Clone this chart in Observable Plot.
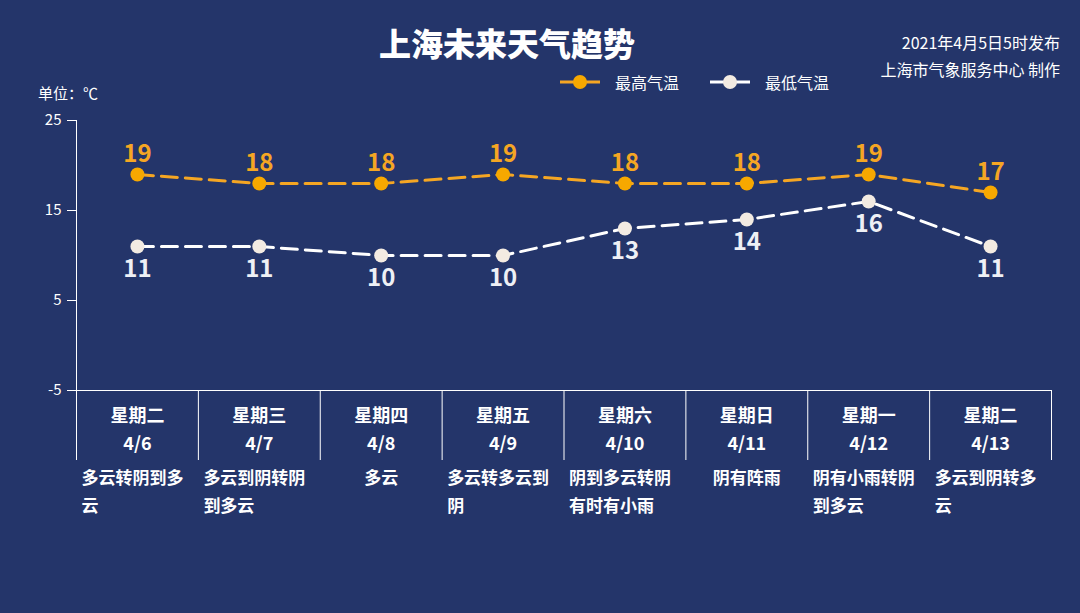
<!DOCTYPE html>
<html>
<head>
<meta charset="utf-8">
<script src="https://cdn.jsdelivr.net/npm/d3@7"></script>
<script src="https://cdn.jsdelivr.net/npm/@observablehq/plot@0.6"></script>
<style>
  html, body { margin: 0; padding: 0; }
  body { width: 1080px; height: 613px; background: #24356a; overflow: hidden;
         font-family: "Noto Sans CJK SC", "Noto Sans", sans-serif; color: #fff; }
  #header { position: relative; height: 110px; }
  #title { position: absolute; left: 0; width: 1014px; top: 20px; line-height: 44px;
           text-align: center; font-size: 32px; font-weight: 900; }
  #source { position: absolute; right: 20px; top: 29px; text-align: right;
            font-size: 16px; line-height: 27px; }
  #legend { position: absolute; left: 560px; top: 70px; height: 24px; display: flex; align-items: center;
            font-size: 16px; }
  #legend .item { display: flex; align-items: center; margin-right: 31px; }
  #legend svg { margin-right: 15px; }
  #unit { position: absolute; left: 38px; top: 82px; font-size: 15px; line-height: 22px; }
</style>
</head>
<body>
<div id="header">
  <div id="title">上海未来天气趋势</div>
  <div id="source">2021年4月5日5时发布<br>上海市气象服务中心 制作</div>
  <div id="legend"></div>
  <div id="unit">单位：℃</div>
</div>
<div id="chart"></div>
<script>
// ---- data ----
const days = ["星期二", "星期三", "星期四", "星期五", "星期六", "星期日", "星期一", "星期二"];
const dates = ["4/6", "4/7", "4/8", "4/9", "4/10", "4/11", "4/12", "4/13"];
const weather = ["多云转阴到多云", "多云到阴转阴到多云", "多云", "多云转多云到阴",
                 "阴到多云转阴有时有小雨", "阴有阵雨", "阴有小雨转阴到多云", "多云到阴转多云"];
const highs = [19, 18, 18, 19, 18, 18, 19, 17];
const lows = [11, 11, 10, 10, 13, 14, 16, 11];
const yTicks = [-5, 5, 15, 25];
const seriesNames = ["最高气温", "最低气温"];

// ---- styles ----
const orange = "#f5a623";
const orangeFill = "#f7a800";
const whiteLine = "#ffffff";
const creamFill = "#f3ebe2";
const lowText = "#eef0f5";

const rows = days.map((d, i) => ({i, day: d, date: dates[i], high: highs[i], low: lows[i], weather: weather[i]}));
const bounds = d3.range(days.length + 1).map(i => i - 0.5);
const wrap = s => s.length > 6 ? s.slice(0, 6) + "\n" + s.slice(6) : s;

// legend
const legend = document.getElementById("legend");
[[seriesNames[0], orange, orangeFill], [seriesNames[1], whiteLine, creamFill]].forEach(([name, stroke, fill]) => {
  const item = document.createElement("div");
  item.className = "item";
  item.innerHTML = `<svg width="40" height="16"><line x1="0" x2="40" y1="8" y2="8" stroke="${stroke}" stroke-width="3"/><circle cx="20" cy="8" r="7" fill="${fill}"/></svg><span>${name}</span>`;
  legend.appendChild(item);
});

const font = "'Noto Sans CJK SC', 'Noto Sans', sans-serif";

const chart = Plot.plot({
  width: 1080,
  height: 503,
  marginTop: 10,
  marginLeft: 76,
  marginRight: 29,
  marginBottom: 223,
  x: {type: "linear", domain: [-0.5, days.length - 0.5], axis: null},
  y: {domain: [-5, 25], axis: null},
  style: {background: "transparent", color: "#ffffff", fontFamily: font, overflow: "visible"},
  marks: [
    Plot.axisY({ticks: yTicks, tickSize: 9, tickPadding: 6, fontSize: 15, label: null, stroke: "#ffffff",
                tickFormat: d => String(d)}),
    Plot.ruleX([-0.5], {stroke: "#ffffff"}),
    Plot.ruleY([-5], {stroke: "#ffffff"}),
    Plot.axisX({ticks: bounds, tickSize: 70, tickFormat: () => "", label: null, stroke: "#ffffff"}),
    // lines
    Plot.line(rows, {x: "i", y: "high", stroke: orange, strokeWidth: 3, strokeDasharray: "16,8"}),
    Plot.line(rows, {x: "i", y: "low", stroke: whiteLine, strokeWidth: 3, strokeDasharray: "16,8"}),
    Plot.dot(rows, {x: "i", y: "high", r: 7, fill: orangeFill, stroke: "none"}),
    Plot.dot(rows, {x: "i", y: "low", r: 7, fill: creamFill, stroke: "none"}),
    // value labels
    Plot.text(rows, {x: "i", y: "high", text: "high", dy: -20, fill: orange, fontSize: 24, fontWeight: "bold"}),
    Plot.text(rows, {x: "i", y: "low", text: "low", dy: 23, fill: lowText, fontSize: 24, fontWeight: "bold"}),
    // category labels
    Plot.text(rows, {x: "i", frameAnchor: "bottom", text: "day", dy: 31, fill: "#ffffff", fontSize: 18, fontWeight: "bold"}),
    Plot.text(rows, {x: "i", frameAnchor: "bottom", text: "date", dy: 59, fill: "#ffffff", fontSize: 18, fontWeight: "bold"}),
    // weather descriptions
    Plot.text(rows.filter(d => d.weather.length > 6), {x: d => d.i - 0.5, frameAnchor: "bottom", text: d => wrap(d.weather),
      textAnchor: "start", lineAnchor: "top", dx: 5, dy: 74, lineHeight: 1.65, fill: "#ffffff", fontSize: 17, fontWeight: "bold"}),
    Plot.text(rows.filter(d => d.weather.length <= 6), {x: "i", frameAnchor: "bottom", text: "weather",
      lineAnchor: "middle", dy: 88, fill: "#ffffff", fontSize: 17, fontWeight: "bold"})
  ]
});
document.getElementById("chart").appendChild(chart);
</script>
</body>
</html>
